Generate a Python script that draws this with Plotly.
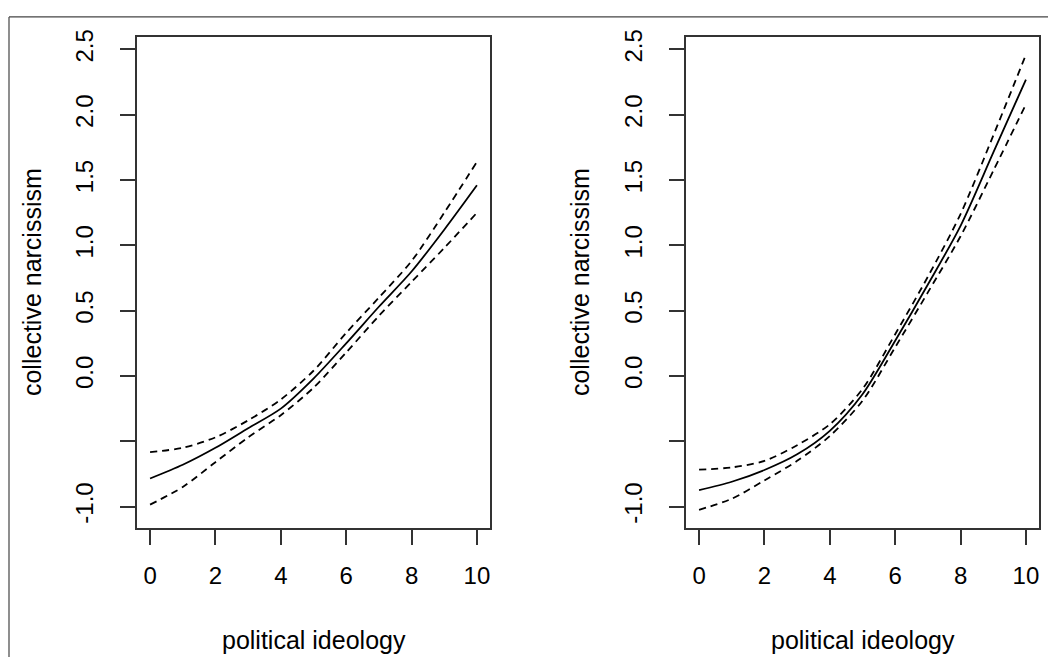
import plotly.graph_objects as go
from plotly.subplots import make_subplots

# ---- data ----
ideology = [0, 1, 2, 3, 4, 5, 6, 7, 8, 9, 10]

left_fit   = [-0.785, -0.68, -0.55, -0.40, -0.25, -0.02, 0.25, 0.53, 0.80, 1.12, 1.46]
left_upper = [-0.583, -0.55, -0.47, -0.34, -0.18, 0.04, 0.33, 0.60, 0.88, 1.25, 1.64]
left_lower = [-0.985, -0.85, -0.66, -0.47, -0.30, -0.09, 0.18, 0.46, 0.72, 0.98, 1.25]

right_fit   = [-0.874, -0.81, -0.72, -0.60, -0.42, -0.14, 0.27, 0.70, 1.15, 1.71, 2.27]
right_upper = [-0.717, -0.70, -0.65, -0.53, -0.37, -0.10, 0.32, 0.76, 1.24, 1.84, 2.46]
right_lower = [-1.025, -0.94, -0.80, -0.65, -0.46, -0.19, 0.22, 0.64, 1.07, 1.57, 2.08]

x_ticks = [0, 2, 4, 6, 8, 10]
y_ticks = [-1.0, -0.5, 0.0, 0.5, 1.0, 1.5, 2.0, 2.5]
y_ticktext = ["-1.0", "", "0.0", "0.5", "1.0", "1.5", "2.0", "2.5"]

x_title = "political ideology"
y_title = "collective narcissism"

W, H = 1048, 657
FONT = "Liberation Sans, Arial, sans-serif"

fig = make_subplots(rows=1, cols=2)

def add_panel(col, fit, upper, lower):
    for ys, dash in ((upper, "7px,5px"), (lower, "7px,5px"), (fit, "solid")):
        fig.add_trace(go.Scatter(x=ideology, y=ys, mode="lines",
                                 line=dict(color="black", width=1.8, dash=dash, shape="spline", smoothing=0.8),
                                 showlegend=False, hoverinfo="skip"),
                      row=1, col=col)

add_panel(1, left_fit, left_upper, left_lower)
add_panel(2, right_fit, right_upper, right_lower)

ydom = [1 - 527 / H, 1 - 30 / H]
axcommon = dict(showgrid=False, zeroline=False, showline=True, mirror=True,
                linecolor="#333333", linewidth=1.5, ticks="outside", ticklen=15,
                tickwidth=1.5, tickcolor="#333333",
                tickfont=dict(family=FONT, size=24, color="black"))

fig.update_layout(
    width=W, height=H, margin=dict(l=0, r=0, t=0, b=0),
    paper_bgcolor="white", plot_bgcolor="white",
    xaxis=dict(domain=[137 / W, 490 / W], range=[-0.4, 10.4], tickvals=x_ticks,
               ticklabelstandoff=10, **axcommon),
    xaxis2=dict(domain=[686 / W, 1039 / W], range=[-0.4, 10.4], tickvals=x_ticks,
                ticklabelstandoff=10, **axcommon),
    yaxis=dict(domain=ydom, range=[-1.167, 2.598], tickvals=y_ticks, ticktext=y_ticktext,
               tickangle=-90, ticklabelstandoff=18, **axcommon),
    yaxis2=dict(domain=ydom, range=[-1.167, 2.598], tickvals=y_ticks, ticktext=y_ticktext,
                tickangle=-90, ticklabelstandoff=18, **axcommon),
)

# axis titles
for cx in (313.5 / W, 862.5 / W):
    fig.add_annotation(text=x_title, xref="paper", yref="paper", x=cx, y=1 - 640 / H,
                       xanchor="center", yanchor="middle", showarrow=False,
                       font=dict(family=FONT, size=25, color="black"))
for cx in (32 / W, 580 / W):
    fig.add_annotation(text=y_title, xref="paper", yref="paper", x=cx, y=1 - 278 / H,
                       xanchor="center", yanchor="middle", showarrow=False, textangle=-90,
                       font=dict(family=FONT, size=25, color="black"))

# outer frame (left and top edges visible)
fig.add_shape(type="line", xref="paper", yref="paper", x0=9 / W, x1=9 / W, y0=-0.05, y1=1 - 10 / H,
              line=dict(color="#444444", width=1.2))
fig.add_shape(type="line", xref="paper", yref="paper", x0=9 / W, x1=1.05, y0=1 - 10 / H, y1=1 - 10 / H,
              line=dict(color="#444444", width=1.2))

post = ("document.body.style.margin='0';"
        "var d=document.getElementById('{plot_id}');"
        "d.style.position='fixed';d.style.top='0px';d.style.left='0px';")
fig.write_html("out.html", config={"displayModeBar": False}, post_script=post)
